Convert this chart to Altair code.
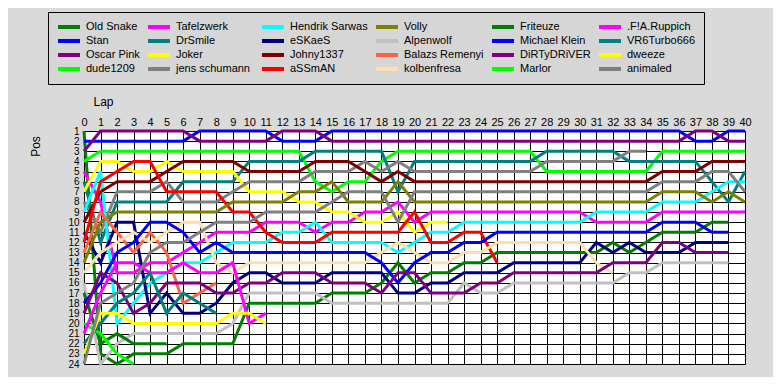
import altair as alt
import pandas as pd

# ---------------- data (positions per lap, starting at lap 0) ----------------
laps = list(range(41))
positions = list(range(1, 25))

old_snake = [1, 23, 24, 23, 23, 23, 22, 22, 22, 22, 18, 18, 18, 18, 18, 17, 17, 17, 16, 14,
             16, 15, 15, 14, 14, 13, 13, 13, 13, 13, 13, 13, 12, 13, 12, 11, 11, 11, 10, 10]
stan = [2, 2, 2, 2, 2, 2, 2, 1, 1, 1, 1, 1, 2, 2, 2, 1, 1, 1, 1, 1, 1,
        1, 1, 1, 1, 1, 1, 1, 1, 1, 1, 1, 1, 1, 1, 1, 1, 2, 2, 1, 1]
oscar_pink = [3, 1, 1, 1, 1, 1, 1, 2, 2, 2, 2, 2, 1, 1, 1, 2, 2, 2, 2, 2, 2,
              2, 2, 2, 2, 2, 2, 2, 2, 2, 2, 2, 2, 2, 2, 2, 2, 1, 1, 2, 2]
dude1209 = [4, 3, 3, 3, 3, 3, 3, 3, 3, 3, 3, 3, 3, 3, 6, 7, 6, 6, 4, 3, 3,
            3, 3, 3, 3, 3, 3, 3, 5, 5, 5, 5, 5, 5, 5, 3, 3, 3, 3, 3, 3]
tafelzwerk = [5, 8, 15, 15, 14, 14, 13, 12, 11, 11, 11, 10, 10, 10, 11, 10, 10, 9, 9, 8, 10,
              9, 9, 9, 9, 9, 9, 9, 9, 9, 9, 10, 10, 10, 10, 9, 9, 9, 9, 9, 9]
drsmile = [6, 12, 8, 8, 8, 8, 6, 6, 6, 6, 4, 4, 4, 4, 3, 3, 3, 3, 3, 7, 4,
           4, 4, 4, 4, 4, 4, 4, 3, 3, 3, 3, 3, 4, 4, 4, 4, 4, 6, 8, 5]
joker = [7, 4, 4, 5, 5, 4, 5, 5, 5, 5, 7, 7, 7, 8, 8, 9, 9, 10, 10, 9, 11, 10, 10]
jens_schumann = [8, 11, 7, 7, 7, 6, 8, 8, 8, 7, 6, 6, 6, 6, 5, 5, 5, 4, 5, 4,
                 5, 5, 5, 5, 5, 5, 5, 5, 4, 4, 4, 4, 4, 3, 3]
hendrik_sarwas = [9, 5, 20, 18, 16, 15, 14, 14, 13, 12, 12, 12, 11, 11, 10, 12, 12, 12, 12, 13, 12,
                  11, 11, 10, 10, 10, 10, 10, 10, 10, 10, 9, 9, 9, 9, 8, 8, 8, 7, 6, 6]
eskaes = [11, 14, 10, 10, 19, 17, 19, 19, 18, 16, 15, 15, 16, 16, 16, 15, 15, 15, 15, 17,
          17, 16, 16, 15, 15, 15, 14, 14, 14, 14, 14, 12, 13, 12, 13, 13, 13, 12, 12, 12]
johny1337 = [10, 7, 6, 6, 6, 5, 4, 4, 4, 4, 5, 5, 5, 5, 4, 4, 4, 5, 6, 5, 6,
             6, 6, 6, 6, 6, 6, 6, 6, 6, 6, 6, 6, 6, 6, 5, 5, 5, 4, 4, 4]
assman = [12, 6, 5, 4, 4, 7, 7, 7, 7, 9, 9, 11, 12, 12, 12, 11, 11, 11, 11, 11, 9, 12, 12,
          11, 11, 14]
volly = [14, 10, 9, 9, 9, 9, 9, 9, 9, 8, 8, 8, 8, 7, 7, 6, 8, 8, 8, 6, 8,
         8, 8, 8, 8, 8, 8, 8, 8, 8, 8, 8, 8, 8, 8, 7, 7, 7, 8, 7, 8]
alpenwolf = [16, 24, 22, 21, 21, 21, 21, 21, 21, 20, 17, 17, 17, 17, 17, 18, 18, 18, 18, 18,
             18, 18, 18, 16, 17, 17, 16, 16, 16, 16, 16, 16, 16, 15, 15, 14, 14, 14, 14, 14]
balazs_remenyi = [13, 9, 11, 13, 11, 13, 18, 17, 16]
kolbenfresa = [15, 13, 12, 11, 12, 11, 10, 10, 14, 15, 14, 14, 14, 14, 14, 14, 14, 14, 13, 12,
               13, 14, 14, 13, 13, 12, 12, 12, 12, 12, 12, 14, 15]
friteuze = [17, 22, 21, 22, 22, 22]
michael_klein = [18, 16, 13, 12, 10, 10, 11, 13, 12, 13, 13, 13, 13, 13, 13, 13, 13, 13, 14, 16,
                 14, 13, 13, 12, 12, 11, 11, 11, 11, 11, 11, 11, 11, 11, 11, 10, 10, 10, 11, 11]
dirtydriver = [19, 15, 16, 19, 18, 16, 16, 16, 17, 17, 16, 16, 15, 15, 15, 16, 16, 16, 17, 15,
               15, 17, 17, 17, 16, 16, 15, 15, 15, 15, 15, 15, 14, 14, 14, 12, 12, 13, 13, 13]
marlor = [20, 21, 23, 24]
fa_ruppich = [21, 17, 14, 14, 15, 15, 14, 15, 15, 14, 20, 19]
vr6turbo666 = [22, 20, 18, 17, 15, 19, 17, 18, 19]
dweeze = [23, 19, 19, 20, 20, 20, 20, 20, 20, 19, 19, 20]
animaled = [24, 18, 17, 16, 13, 12, 12, 11, 10, 10, 10, 9, 9, 9, 9, 8, 7, 7, 7, 10,
            7, 7, 7, 7, 7, 7, 7, 7, 7, 7, 7, 7, 7, 7, 7, 6, 6, 6, 5, 5, 7]

# legend order (column by column, 4 rows x 6 columns) with line colours
drivers = [
    "Old Snake", "Stan", "Oscar Pink", "dude1209",
    "Tafelzwerk", "DrSmile", "Joker", "jens  schumann",
    "Hendrik Sarwas", "eSKaeS", "Johny1337", "aSSmAN",
    "Volly", "Alpenwolf", "Balazs Remenyi", "kolbenfresa",
    "Friteuze", "Michael Klein", "DiRTyDRiVER", "Marlor",
    ".F!A.Ruppich", "VR6Turbo666", "dweeze", "animaled",
]
driver_series = [
    old_snake, stan, oscar_pink, dude1209,
    tafelzwerk, drsmile, joker, jens_schumann,
    hendrik_sarwas, eskaes, johny1337, assman,
    volly, alpenwolf, balazs_remenyi, kolbenfresa,
    friteuze, michael_klein, dirtydriver, marlor,
    fa_ruppich, vr6turbo666, dweeze, animaled,
]
driver_colors = [
    "#008000", "#0000ff", "#800080", "#00ff00",
    "#ff00ff", "#008080", "#ffff00", "#808080",
    "#00ffff", "#000080", "#800000", "#ff0000",
    "#808000", "#c0c0c0", "#ff6347", "#ffdead",
    "#008000", "#0000ff", "#800080", "#00ff00",
    "#ff00ff", "#008080", "#ffff00", "#808080",
]

rows = []
for name, vals in zip(drivers, driver_series):
    for lap, p in zip(laps, vals):
        rows.append({"driver": name, "lap": lap, "pos": p})
df = pd.DataFrame(rows)

FONT = "Liberation Sans"

chart = alt.Chart(df).mark_line(strokeWidth=3).encode(
    x=alt.X("lap:Q",
            scale=alt.Scale(domain=[0, 40], nice=False, zero=False),
            axis=alt.Axis(orient="top", values=laps, format="d", title="Lap",
                          grid=True, gridColor="black", gridOpacity=1, gridWidth=1,
                          domainColor="black", ticks=False, labelPadding=4,
                          labelFont=FONT, labelFontSize=11, labelColor="black",
                          labelFlush=False, labelOverlap=False,
                          titleFont=FONT, titleFontSize=12, titleFontWeight="normal",
                          titleColor="black", titleX=19, titleY=-30,
                          titleAlign="center", titleBaseline="middle")),
    y=alt.Y("pos:Q",
            scale=alt.Scale(domain=[1, 24], reverse=True, nice=False, zero=False),
            axis=alt.Axis(values=positions, format="d", title="Pos",
                          grid=True, gridColor="black", gridOpacity=1, gridWidth=1,
                          domainColor="black", ticks=False, labelPadding=5,
                          labelFont=FONT, labelFontSize=10, labelColor="black",
                          labelFlush=False, labelOverlap=False,
                          titleFont=FONT, titleFontSize=12, titleFontWeight="normal",
                          titleColor="black", titleX=-49, titleY=15, titleAngle=270,
                          titleAlign="center", titleBaseline="middle")),
    color=alt.Color("driver:N",
                    scale=alt.Scale(domain=drivers, range=driver_colors),
                    legend=alt.Legend(orient="none", legendX=-36, legendY=-119, columns=6,
                                      title=None, symbolType="M-2.75,0H2.75", symbolSize=64,
                                      symbolStrokeWidth=4, symbolOffset=7, clipHeight=14,
                                      labelFont=FONT, labelFontSize=11,
                                      labelColor="black", labelOffset=11, columnPadding=6,
                                      rowPadding=0, padding=8, strokeColor="black",
                                      fillColor="#d6d6d6")),
    order="lap:Q",
).properties(
    width=661, height=233,
    background="#dadada",
    padding={"left": 76, "top": 123, "right": 28, "bottom": 13},
    autosize=alt.AutoSizeParams(type="none"),
).configure_view(fill="white", stroke="black", strokeWidth=1)

chart.save("out.html", embed_options={"renderer": "svg", "actions": False})
